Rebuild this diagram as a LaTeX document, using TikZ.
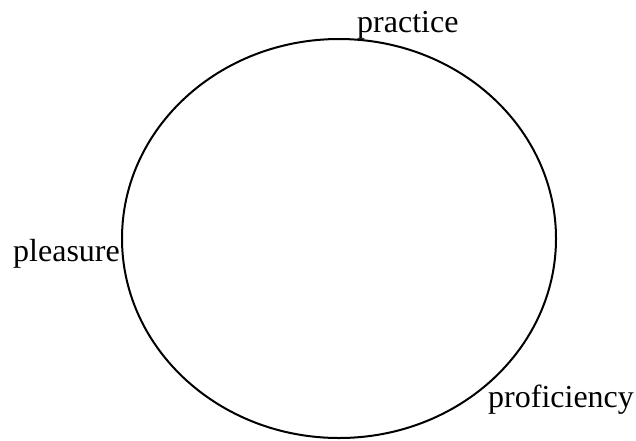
\documentclass[tikz,border=0pt]{standalone}
\usepackage{fontspec}
\setmainfont{Liberation Serif}
\begin{document}
\begin{tikzpicture}[x=1pt,y=-1pt,
  lbl/.style={anchor=base west,inner sep=0pt,font=\fontsize{32}{37}\selectfont}]
\useasboundingbox (0,0) rectangle (636,440);
\draw[line width=2pt] (339,238.5) ellipse [x radius=217, y radius=199.5];
\node[lbl] (practice) at (357,32) {practice};
\node[lbl] (pleasure) at (13,261) {pleasure};
\node[lbl] (proficiency) at (488,407) {proficiency};
\end{tikzpicture}
\end{document}
